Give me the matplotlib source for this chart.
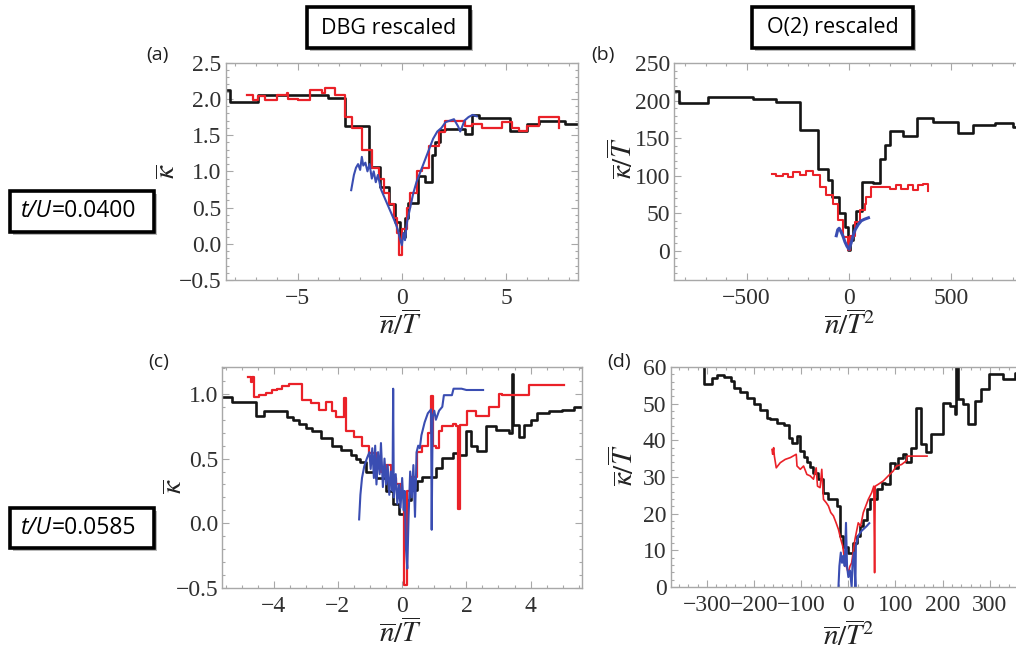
import matplotlib
matplotlib.use('Agg')
import matplotlib.pyplot as plt
from matplotlib.patches import Rectangle
from matplotlib.ticker import MultipleLocator

plt.rcParams['mathtext.fontset'] = 'stix'
plt.rcParams['font.family'] = 'serif'
plt.rcParams['font.serif'] = ['Liberation Serif', 'DejaVu Serif']

# ---------------- data ----------------
# (a) DBG rescaled, t/U = 0.0400  -- kappa vs n/T
a_blk_x = [-8.45, -8.24, -6.88, -3.52, -2.75, -1.57, -1.04, -0.64, -0.32, -0.08, 0.16, 0.29, 0.77,
           1.12, 1.44, 1.60, 1.84, 2.08, 3.04, 3.36, 3.68, 5.20, 6.00, 6.56, 7.83, 8.45]
a_blk_y = [2.13, 1.96, 2.06, 2.01, 1.62, 1.06, 0.78, 0.55, 0.30, 0.10, 0.35, 0.56, 0.93,
           0.85, 1.22, 1.40, 1.57, 1.59, 1.52, 1.78, 1.73, 1.56, 1.66, 1.69, 1.66, 1.66]
a_red_x = [-7.44, -7.12, -6.88, -6.56, -6.00, -5.52, -5.44, -4.96, -4.40, -3.84, -3.68, -3.20, -2.75,
           -2.40, -1.92, -1.44, -1.12, -0.88, -0.64, -0.40, -0.24, -0.13, 0.00, 0.24, 0.40, 0.72,
           0.96, 1.28, 1.76, 2.08, 3.04, 3.36, 3.84, 4.80, 5.28, 5.60, 6.00, 6.56, 7.52, 7.56]
a_red_y = [2.05, 1.98, 2.04, 1.99, 2.05, 2.08, 2.00, 1.98, 2.12, 2.08, 2.15, 2.05, 1.75,
           1.60, 1.30, 1.05, 0.90, 0.70, 0.55, 0.35, 0.15, -0.15, 0.20, 0.50, 0.70, 1.00,
           1.05, 1.35, 1.55, 1.70, 1.62, 1.65, 1.60, 1.68, 1.60, 1.56, 1.62, 1.75, 1.60, 1.60]
a_blu_x = [-2.43, -2.30, -2.20, -2.10, -2.00, -1.92, -1.85, -1.75, -1.65, -1.55, -1.44, -1.35, -1.25,
           -1.15, -1.00, -0.85, -0.70, -0.55, -0.40, -0.30, -0.20, -0.10, 0.00, 0.08, 0.15, 0.25,
           0.40, 0.55, 0.70, 0.90, 1.10, 1.30, 1.50, 1.70, 1.90, 2.10, 2.30, 2.50, 2.70, 2.80,
           2.90, 3.00, 3.20, 3.40, 3.60]
a_blu_y = [0.74, 0.95, 1.05, 1.10, 1.02, 1.20, 1.08, 1.12, 1.00, 1.10, 0.90, 1.00, 0.85,
           0.95, 0.75, 0.65, 0.55, 0.45, 0.35, 0.28, 0.20, 0.08, -0.02, 0.15, 0.05, 0.30,
           0.50, 0.70, 0.85, 1.00, 1.15, 1.30, 1.45, 1.55, 1.60, 1.68, 1.70, 1.72, 1.62, 1.55,
           1.62, 1.70, 1.75, 1.78, 1.76]

# (b) O(2) rescaled, t/U = 0.0400  -- kappa/T vs n/T^2
b_blk_x = [-854, -830, -688, -575, -469, -355, -241, -151, -103, -81, -49, -21, -5, 5, 20, 36, 65,
           117, 150, 174, 199, 264, 332, 410, 532, 605, 711, 801, 854]
b_blk_y = [213, 196.6, 205.5, 204.6, 202.4, 198.8, 161, 108.5, 94, 72, 50, 32, 1, 15, 35, 53, 92,
           90, 123, 141, 160, 153, 176.6, 172, 156.6, 167.7, 170, 164.6, 164.6]
b_red_x = [-376, -355, -322, -298, -274, -241, -208, -176, -143, -111, -78, -54, -29, -5, 5, 28,
           52, 76, 85, 109, 199, 231, 256, 288, 313, 337, 361, 386]
b_red_y = [103, 99.6, 103, 98.7, 105, 101, 107, 101, 85, 74, 63, 41, 19, 1, 20, 39,
           54, 63, 72, 85, 82, 87.6, 82, 88, 81, 88, 89, 80]
b_blu_x = [-62, -55, -48, -40, -30, -20, -10, 0, 10, 20, 30, 45, 60, 75, 95]
b_blu_y = [20, 28, 30, 26, 20, 12, 6, 2, 10, 20, 28, 35, 40, 42, 44]

# (c) DBG rescaled, t/U = 0.0585
c_blk_x = [-5.6, -5.29, -4.56, -4.3, -3.89, -3.58, -3.4, -3.2, -3.0, -2.8, -2.54, -2.17, -1.91,
           -1.6, -1.45, -1.3, -1.13, -0.82, -0.51, -0.3, -0.1, 0.11, 0.27, 0.47, 0.63, 1.05,
           1.25, 1.57, 1.77, 1.98, 2.14, 2.34, 2.6, 2.92, 3.33, 3.43, 3.45, 3.64, 3.8, 4.0, 4.21,
           4.58, 4.99, 5.36, 5.6]
c_blk_y = [0.974, 0.94, 0.83, 0.864, 0.87, 0.825, 0.80, 0.77, 0.74, 0.71, 0.66, 0.595, 0.57,
           0.53, 0.50, 0.47, 0.40, 0.35, 0.25, 0.15, 0.07, 0.18, 0.26, 0.325, 0.36, 0.43,
           0.505, 0.54, 0.53, 0.71, 0.595, 0.556, 0.75, 0.72, 0.70, 1.15, 0.76, 0.67, 0.76, 0.80,
           0.85, 0.864, 0.877, 0.90, 0.90]
c_red_x = [-4.79, -4.72, -4.67, -4.61, -4.46, -4.25, -4.04, -3.89, -3.73, -3.52, -3.11, -2.85,
           -2.59, -2.38, -2.17, -2.07, -1.81, -1.74, -1.50, -1.24, -1.03, -0.82, -0.67, -0.51,
           -0.36, -0.20, -0.04, 0.06, 0.16, 0.27, 0.47, 0.63, 0.79, 0.89, 0.96, 1.05, 1.15,
           1.25, 1.57, 1.67, 1.73, 1.79, 2.03, 2.29, 2.71, 3.02, 3.10, 3.95, 5.04]
c_red_y = [1.13, 1.09, 1.13, 0.974, 0.99, 1.01, 1.03, 1.04, 1.06, 1.08, 0.95, 0.93,
           0.875, 0.94, 0.865, 0.825, 0.97, 0.71, 0.67, 0.595, 0.54, 0.47, 0.40, 0.45,
           0.35, 0.30, 0.20, -0.48, 0.25, 0.36, 0.55, 0.60, 0.70, 0.98, 0.60, 0.58, 0.71,
           0.75, 0.77, 0.75, 0.11, 0.76, 0.865, 0.83, 0.90, 1.00, 0.99, 1.07, 1.07]
c_blu_x = [-1.34, -1.30, -1.25, -1.18, -1.10, -1.02, -0.98, -0.93, -0.88, -0.84, -0.80, -0.75,
           -0.70, -0.66, -0.60, -0.55, -0.50, -0.45, -0.40, -0.35, -0.30, -0.28, -0.26, -0.20,
           -0.15, -0.10, -0.05, 0.00, 0.05, 0.08, 0.12, 0.16, 0.20, 0.25, 0.30, 0.35, 0.40,
           0.45, 0.50, 0.55, 0.60, 0.70, 0.80, 0.90, 0.92, 0.95, 1.00, 1.05, 1.15, 1.25, 1.30,
           1.55, 1.60, 1.85, 2.00, 2.52]
c_blu_y = [0.03, 0.22, 0.35, 0.44, 0.50, 0.55, 0.42, 0.58, 0.35, 0.60, 0.30, 0.55,
           0.38, 0.62, 0.28, 0.50, 0.30, 0.45, 0.22, 0.40, 0.25, 1.04, 0.20, 0.38,
           0.15, 0.30, 0.12, 0.35, 0.10, 0.25, -0.20, -0.35, 0.05, 0.40, 0.20, 0.45, 0.05,
           0.55, 0.60, 0.58, 0.68, 0.78, 0.85, 0.88, -0.05, 0.82, 0.87, 0.80, 0.87, 0.90, 0.99,
           0.99, 1.04, 1.04, 1.03, 1.03]

# (d) O(2) rescaled, t/U = 0.0585
d_blk_x = [-377, -306.5, -289, -278, -264, -250, -243, -230, -215, -200, -187, -173, -166, -151.5,
           -137.4, -127, -120, -109, -102, -95, -88, -81, -74, -63.4, -52.8, -42.3, -24.6, -17.6,
           -10.6, 0, 10.6, 17.6, 24.7, 31.7, 38.8, 45.8, 60, 70.5, 77.5, 88, 98.7, 105.7, 116, 123,
           134, 144.5, 155, 165.6, 176, 201, 215, 225.5, 228, 232.6, 243, 253.7, 268, 282, 299.5,
           327.7, 354.5, 377]
d_blk_y = [66, 55.3, 57.1, 57.7, 57.4, 56.2, 54.4, 53.2, 51.6, 50.0, 48.3, 46.2, 45.7, 44.8,
           44.1, 40.7, 39.4, 41.2, 37.1, 35.5, 34.2, 32.8, 31.0, 29.4, 25.7, 24.0, 22.1, 14.0,
           11.0, 9.4, 12.0, 14.0, 16.6, 18.4, 21.2, 24.0, 26.6, 28.5, 28.2, 33.9, 32.5, 35.3, 36.2, 34.0,
           38.0, 48.9, 38.9, 36.8, 41.6, 50.1, 49.4, 47.1, 62, 51.2, 49.8, 44.4, 50.7, 53.9, 58.0,
           56.6, 58.3, 58.3]
d_red_x = [-162, -160.6, -158.5, -157, -153, -144.5, -134, -123, -110.6, -109, -102, -95, -88,
           -81, -74, -68.3, -65.5, -60, -56.4, -52.8, -47, -42.3, -37.3, -31.7, -26, -21, -16,
           -12, -7, 0, 3.5, 7, 14, 21, 26, 31.7, 42.3, 49.4, 54, 55.7, 57, 63.4, 74, 84.6, 95,
           102, 112.8, 123, 124.7, 167]
d_red_y = [37.5, 36.2, 38, 35.7, 32.5, 33.9, 34.8, 35.3, 36.2, 33, 32.1, 33, 30.7,
           30.3, 29.4, 32.5, 27.5, 27.1, 32.1, 23.9, 23, 22.1, 20.3, 19.4, 17.5, 15.7, 13,
           11.2, 6.6, 3.9, 5.7, 6.6, 13, 17.5, 16.6, 20.3, 23.9, 25.7, 27.5, 3.9, 27.5, 28, 28.9,
           30.3, 31.6, 33, 33.4, 34.4, 35.7, 35.7]
d_blu_x = [-21, -19, -16, -13.4, -10.6, -7.7, -5, -2.8, 0, 3.5, 7, 9, 12, 15, 16, 21, 28, 38.8, 44.4]
d_blu_y = [0, 5.7, 9.4, 6.6, 8.5, 5.7, 17.5, 5.7, 2.7, 4.5, 0, 6.6, 9.4, 0, 11.2, 14, 15.3, 16.6, 17.4]

# ---------------- styling ----------------
W, H = 1016, 657
BLACK = '#151515'
RED = '#ea2128'
BLUE = '#3a4db2'
FRAME = '#a8a8a8'
TICKTXT = '#303030'

fig = plt.figure(figsize=(W / 100, H / 100), dpi=100)


def px_axes(l, t, r, b):
    return fig.add_axes([l / W, 1 - b / H, (r - l) / W, (b - t) / H])


def style(ax, xlim, ylim, xmaj, xmin, ymaj, ymin):
    ax.set_xlim(*xlim)
    ax.set_ylim(*ylim)
    ax.xaxis.set_major_locator(MultipleLocator(xmaj))
    ax.xaxis.set_minor_locator(MultipleLocator(xmin))
    ax.yaxis.set_major_locator(MultipleLocator(ymaj))
    ax.yaxis.set_minor_locator(MultipleLocator(ymin))
    for s in ax.spines.values():
        s.set_color(FRAME)
        s.set_linewidth(1.0)
    ax.tick_params(which='both', direction='in', top=True, right=True, color=FRAME,
                   labelsize=17, labelcolor=TICKTXT, width=0.8)
    ax.tick_params(which='major', length=5, pad=3)
    ax.tick_params(which='minor', length=2.5)
    ax.tick_params(axis='x', which='major', pad=6)


axA = px_axes(225.7, 62.7, 578, 280)
axB = px_axes(674, 63.3, 1024, 280)
axC = px_axes(222.3, 366.7, 582, 588)
axD = px_axes(670.7, 367, 1026, 587)

style(axA, (-8.45, 8.45), (-0.5, 2.5), 5, 1, 0.5, 0.1)
style(axB, (-854, 854), (-39, 250), 500, 100, 50, 10)
style(axC, (-5.6, 5.6), (-0.5, 1.21), 2, 0.5, 0.5, 0.1)
style(axD, (-377, 377), (0, 60), 100, 20, 10, 2)

axA.plot(a_blk_x, a_blk_y, color=BLACK, lw=1.9, drawstyle='steps-post')
axA.plot(a_red_x, a_red_y, color=RED, lw=1.6, drawstyle='steps-post')
axA.plot(a_blu_x, a_blu_y, color=BLUE, lw=1.5)

axB.plot(b_blk_x, b_blk_y, color=BLACK, lw=1.9, drawstyle='steps-post')
axB.plot(b_red_x, b_red_y, color=RED, lw=1.5, drawstyle='steps-post')
axB.plot(b_blu_x, b_blu_y, color=BLUE, lw=2.2)

axC.plot(c_blk_x, c_blk_y, color=BLACK, lw=1.9, drawstyle='steps-post')
axC.plot(c_red_x, c_red_y, color=RED, lw=1.6, drawstyle='steps-post')
axC.plot(c_blu_x, c_blu_y, color=BLUE, lw=1.5)

axD.plot(d_blk_x, d_blk_y, color=BLACK, lw=1.9, drawstyle='steps-post')
axD.plot(d_red_x, d_red_y, color=RED, lw=1.2)
axD.plot(d_blu_x, d_blu_y, color=BLUE, lw=1.5)

lab_kw = dict(fontsize=21, color='#222222')
for ax, yl, ypos, xl, xpos in [
        (axA, r'$\overline{\kappa}$', (-0.125, 0.50), r'$\overline{n}/\overline{T}$', (0.495, -0.14)),
        (axB, r'$\overline{\kappa}/\overline{T}$', (-0.10, 0.56), r'$\overline{n}/\overline{T}^2$', (0.50, -0.14)),
        (axC, r'$\overline{\kappa}$', (-0.095, 0.46), r'$\overline{n}/\overline{T}$', (0.495, -0.14)),
        (axD, r'$\overline{\kappa}/\overline{T}$', (-0.085, 0.555), r'$\overline{n}/\overline{T}^2$', (0.50, -0.16))]:
    ax.set_ylabel(yl, **lab_kw)
    ax.yaxis.set_label_coords(*ypos)
    ax.set_xlabel(xl, **lab_kw)
    ax.xaxis.set_label_coords(*xpos)

# panel letters
SANS = ['Open Sans', 'DejaVu Sans']
for txt, x, y in [('(a)', 157, 55), ('(b)', 603, 55), ('(c)', 159, 362), ('(d)', 619, 362)]:
    fig.text(x / W, 1 - y / H, txt, family=SANS, fontsize=14, ha='center', va='center',
             color='#202020')


def framed(x0, y0, x1, y1):
    fig.add_artist(Rectangle((x0 / W + 3 / W, 1 - y1 / H - 3 / H), (x1 - x0) / W, (y1 - y0) / H,
                             transform=fig.transFigure, facecolor='#b8b8b8', edgecolor='none',
                             zorder=5))
    fig.add_artist(Rectangle((x0 / W, 1 - y1 / H), (x1 - x0) / W, (y1 - y0) / H,
                             transform=fig.transFigure, facecolor='white', edgecolor='black',
                             lw=2.6, zorder=6))


framed(307, 7, 470, 48)
fig.text(388.5 / W, 1 - 28 / H, 'DBG rescaled', family=SANS, fontsize=15.5, ha='center',
         va='center', zorder=7)
framed(752, 7, 913, 48)
fig.text(832.5 / W, 1 - 28 / H, 'O(2) rescaled', family=SANS, fontsize=15.5, ha='center',
         va='center', zorder=7)

fig.canvas.draw()
renderer = fig.canvas.get_renderer()
for (y0, y1, value) in [(191, 232, '=0.0400'), (508, 548, '=0.0585')]:
    framed(10, y0, 154, y1)
    yc = 1 - (y0 + y1) / 2 / H
    t1 = fig.text(21 / W, yc, 't/U', family=SANS, style='italic', fontsize=16.5, ha='left',
                  va='center', zorder=7)
    bb = t1.get_window_extent(renderer)
    fig.text(bb.x1 / W, yc, value, family=SANS, fontsize=16.5, ha='left', va='center', zorder=7)

fig.savefig('out.png', dpi=100)
